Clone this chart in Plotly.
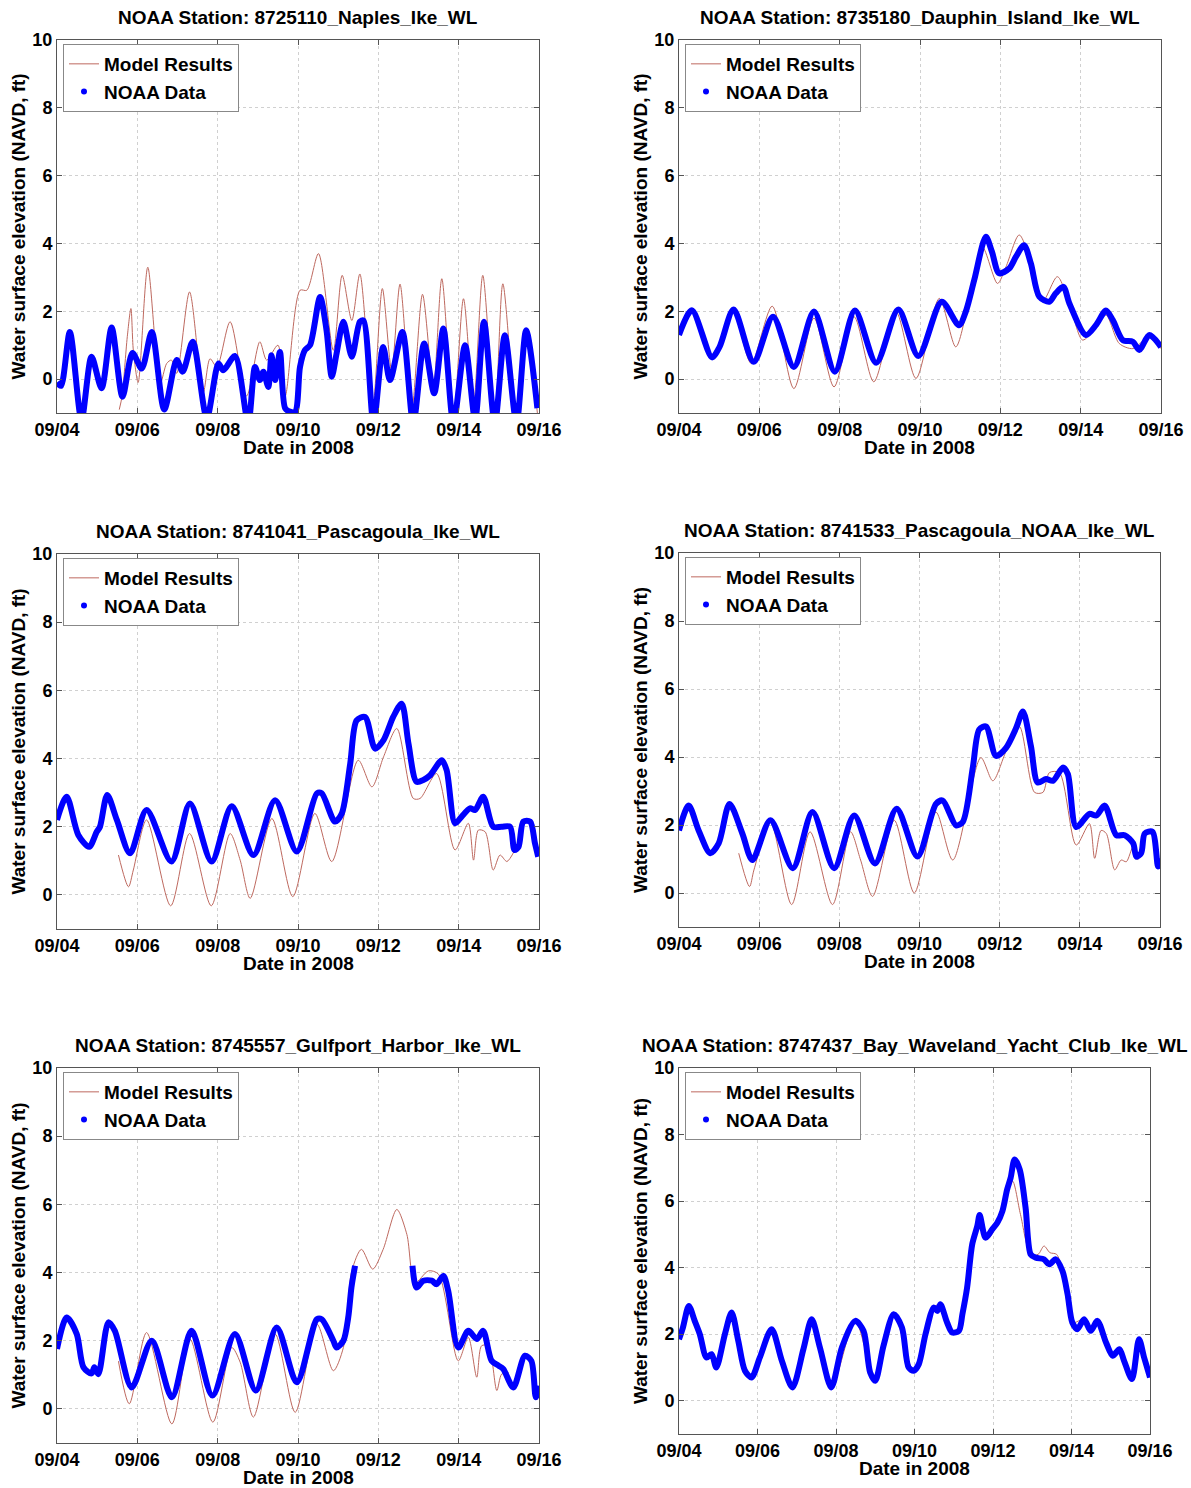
import pandas as pd
import plotly.graph_objects as go

W, H = 1191, 1488
BASE = pd.Timestamp("2008-09-04")

# time in days after 09/04 00:00, water level in ft (NAVD)
naples_t_model = [1.55, 1.62, 1.75, 1.84, 1.90, 2.02, 2.26, 2.57, 2.73, 2.85, 2.98, 3.30, 3.64, 3.81, 3.98,
                  4.31, 4.72, 5.05, 5.22, 5.50, 5.68, 6.05, 6.22, 6.51, 6.88, 7.10, 7.34, 7.54, 7.86, 8.10,
                  8.33, 8.54, 8.83, 9.10, 9.37, 9.58, 9.87, 10.12, 10.37, 10.60, 10.90, 11.10, 11.44, 11.68, 11.96]
naples_y_model = [-0.9, -0.5, 1.25, 2.08, 0.85, -0.1, 3.3, -0.13, 0.46, 0.56, 0.17, 2.57, -0.4, 0.6, 0.36,
                  1.69, -0.5, 1.1, 0.56, 1.0, -0.5, 2.62, 2.62, 3.7, 0.85, 3.06, 1.73, 3.1, -0.8, 2.67,
                  0.26, 2.8, -0.9, 2.5, -0.2, 2.96, -1.1, 2.37, -0.7, 3.06, -1.1, 2.81, -1.1, 1.35, -1.0]
naples_t_noaa = [0.0, 0.1, 0.32, 0.61, 0.86, 1.11, 1.36, 1.63, 1.88, 2.11, 2.36, 2.67, 2.98, 3.13, 3.38,
                 3.73, 4.02, 4.14, 4.43, 4.76, 4.93, 5.05, 5.14, 5.26, 5.34, 5.43, 5.55, 5.68, 5.80, 5.93,
                 6.05, 6.17, 6.30, 6.55, 6.71, 6.84, 6.96, 7.13, 7.34, 7.54, 7.63, 7.88, 8.12, 8.29, 8.60,
                 8.87, 9.14, 9.39, 9.62, 9.87, 10.16, 10.41, 10.63, 10.90, 11.15, 11.44, 11.68, 11.96]
naples_y_noaa = [-0.1, -0.2, 1.39, -1.2, 0.66, -0.27, 1.52, -0.52, 0.77, 0.31, 1.39, -0.9, 0.56, 0.22, 1.1,
                 -1.15, 0.46, 0.26, 0.68, -1.3, 0.36, -0.03, 0.22, -0.23, 0.7, -0.03, 0.8, -0.86, -0.96, -0.96,
                 0.36, 0.85, 1.0, 2.42, 1.44, 0.07, 0.75, 1.69, 0.66, 1.69, 1.73, -1.3, 0.95, -0.03, 1.39,
                 -1.3, 1.05, -0.42, 1.49, -1.3, 1.0, -1.2, 1.69, -1.3, 1.29, -1.3, 1.44, -0.86]

dauphin_t_model = [1.50, 1.80, 2.32, 2.86, 3.36, 3.86, 4.36, 4.85, 5.40, 5.90, 6.48, 6.89, 7.20, 7.55, 7.93,
                   8.14, 8.47, 8.80, 9.05, 9.42, 9.72, 10.05, 10.38, 10.63, 10.96, 11.30, 11.71, 12.00]
dauphin_y_model = [1.6, 0.46, 2.15, -0.28, 1.8, -0.23, 1.84, -0.08, 1.99, 0.02, 2.38, 0.95, 2.2, 3.9, 2.82,
                   3.31, 4.25, 3.31, 2.28, 3.02, 2.23, 1.15, 1.54, 1.89, 1.05, 0.9, 1.25, 0.9]
dauphin_t_noaa = [0.0, 0.32, 0.82, 1.01, 1.36, 1.86, 2.34, 2.86, 3.36, 3.88, 4.38, 4.91, 5.46, 5.96, 6.54,
                  6.97, 7.14, 7.35, 7.64, 7.79, 7.97, 8.22, 8.39, 8.59, 8.76, 8.97, 9.22, 9.38, 9.57, 9.72,
                  10.13, 10.38, 10.63, 10.80, 11.05, 11.30, 11.46, 11.71, 12.00]
dauphin_y_noaa = [1.3, 2.03, 0.64, 0.95, 2.05, 0.51, 1.84, 0.36, 1.99, 0.22, 2.02, 0.48, 2.05, 0.68, 2.28,
                  1.59, 1.99, 2.92, 4.2, 3.76, 3.12, 3.26, 3.61, 3.95, 3.41, 2.43, 2.28, 2.53, 2.72, 2.23,
                  1.3, 1.59, 2.02, 1.74, 1.15, 1.1, 0.86, 1.3, 0.95]

pasc_t_model = [1.53, 1.78, 1.90, 2.23, 2.83, 3.30, 3.84, 4.31, 4.56, 4.81, 5.35, 5.87, 6.42, 6.84, 7.50,
                7.84, 8.13, 8.46, 8.87, 9.04, 9.45, 9.91, 10.24, 10.37, 10.49, 10.66, 10.86, 11.03, 11.20, 11.40]
pasc_y_model = [1.17, 0.24, 0.73, 2.2, -0.32, 1.8, -0.32, 1.8, 1.02, -0.1, 2.24, -0.05, 2.39, 0.98, 3.95,
                3.17, 4.05, 4.88, 2.83, 2.83, 3.56, 1.32, 2.1, 1.02, 1.9, 1.85, 0.73, 1.17, 0.98, 1.32]
pasc_t_noaa = [0.0, 0.24, 0.53, 0.80, 0.99, 1.07, 1.25, 1.49, 1.82, 2.23, 2.85, 3.31, 3.85, 4.35, 4.89,
               5.43, 5.97, 6.47, 6.59, 6.92, 7.09, 7.30, 7.46, 7.67, 7.92, 8.13, 8.37, 8.58, 8.75, 8.95,
               9.12, 9.29, 9.58, 9.70, 9.91, 10.07, 10.28, 10.41, 10.61, 10.86, 11.07, 11.28, 11.39, 11.49,
               11.61, 11.78, 11.90, 11.98]
pasc_y_noaa = [2.2, 2.88, 1.76, 1.41, 1.85, 2.0, 2.93, 2.2, 1.22, 2.49, 0.98, 2.68, 0.98, 2.6, 1.17,
               2.78, 1.27, 2.98, 2.98, 2.15, 2.39, 3.85, 5.12, 5.22, 4.29, 4.54, 5.22, 5.61, 4.44, 3.32,
               3.37, 3.51, 3.95, 3.66, 2.1, 2.29, 2.54, 2.49, 2.88, 2.0, 2.0, 2.0, 1.32, 1.41,
               2.15, 2.15, 1.51, 1.12]

pnoaa_t_model = [1.49, 1.76, 1.87, 2.28, 2.81, 3.27, 3.83, 4.28, 4.53, 4.83, 5.37, 5.87, 6.41, 6.83, 7.53,
                 7.83, 8.16, 8.49, 8.87, 9.08, 9.24, 9.49, 9.91, 10.24, 10.37, 10.53, 10.66, 10.87, 11.03,
                 11.16, 11.33, 11.45]
pnoaa_y_model = [1.17, 0.19, 0.68, 2.09, -0.34, 1.8, -0.34, 1.8, 0.97, -0.1, 2.14, 0.0, 2.38, 0.97, 3.98,
                 3.3, 4.17, 4.9, 2.96, 2.96, 3.54, 3.54, 1.41, 2.04, 1.02, 1.84, 1.75, 0.68, 0.97,
                 0.92, 1.36, 0.97]
pnoaa_t_noaa = [0.0, 0.24, 0.49, 0.78, 0.99, 1.26, 1.58, 1.83, 2.28, 2.84, 3.33, 3.87, 4.37, 4.89, 5.43,
                5.95, 6.41, 6.58, 6.91, 7.08, 7.33, 7.49, 7.66, 7.91, 8.16, 8.41, 8.58, 8.78, 8.95, 9.16,
                9.33, 9.58, 9.70, 9.91, 10.24, 10.41, 10.62, 10.91, 11.12, 11.33, 11.41, 11.53, 11.62,
                11.81, 11.95, 12.00]
pnoaa_y_noaa = [1.84, 2.57, 1.84, 1.17, 1.46, 2.62, 1.75, 0.97, 2.14, 0.73, 2.38, 0.73, 2.28, 0.87, 2.48,
                1.07, 2.62, 2.72, 1.99, 2.09, 3.69, 4.81, 4.9, 4.03, 4.27, 4.85, 5.34, 4.32, 3.25, 3.35,
                3.3, 3.69, 3.5, 1.94, 2.33, 2.28, 2.57, 1.7, 1.7, 1.46, 1.07, 1.17, 1.75,
                1.8, 0.78, 1.02]

gulf_t_model = [1.53, 1.80, 2.23, 2.86, 3.31, 3.88, 4.35, 4.56, 4.89, 5.43, 5.93, 6.47, 6.88, 7.13, 7.34,
                7.58, 7.86, 8.12, 8.46, 8.71, 8.91, 9.25, 9.50, 9.99, 10.24, 10.45, 10.57, 10.74, 10.95,
                11.07, 11.24]
gulf_y_model = [1.4, 0.15, 2.24, -0.44, 2.05, -0.39, 1.8, 1.37, -0.24, 2.2, -0.1, 2.49, 1.12, 1.8, 4.05,
                4.68, 4.1, 4.68, 5.85, 5.12, 3.7, 4.05, 3.95, 1.41, 2.1, 0.93, 1.85, 1.85, 0.54,
                1.02, 1.07]
gulf_t_noaa = [0.0, 0.24, 0.49, 0.66, 0.86, 0.93, 1.03, 1.28, 1.44, 1.86, 2.36, 2.86, 3.35, 3.87, 4.43,
               4.95, 5.47, 5.97, 6.47, 6.59, 6.88, 6.96, 7.13, 7.25, 7.33, 7.42, 8.10,
               8.85, 8.95, 9.12, 9.33, 9.45, 9.62, 9.74, 9.99, 10.24, 10.45, 10.61, 10.82, 10.99, 11.11,
               11.36, 11.65, 11.81, 11.92, 12.00]
gulf_y_noaa = [1.76, 2.68, 2.2, 1.22, 1.04, 1.22, 1.02, 2.54, 2.29, 0.63, 2.0, 0.34, 2.29, 0.39, 2.2,
               0.54, 2.39, 0.78, 2.63, 2.63, 2.0, 1.8, 2.0, 2.68, 3.56, 4.2, None,
               4.2, 3.56, 3.76, 3.76, 3.66, 3.9, 3.46, 1.8, 2.29, 2.05, 2.29, 1.41, 1.27, 1.17,
               0.63, 1.56, 1.41, 0.34, 0.68]

bay_t_model = [1.50, 1.85, 2.36, 2.89, 3.38, 3.88, 4.49, 5.00, 5.47, 5.98, 6.49, 6.66, 6.96, 7.13, 7.47,
               7.66, 7.85, 8.11, 8.36, 8.50, 8.70, 8.96, 9.15, 9.30, 9.45, 9.62, 9.77, 10.02, 10.32, 10.49,
               10.66, 11.05, 11.22, 11.54, 11.72, 12.00]
bay_y_model = [1.8, 0.7, 2.15, 0.4, 2.45, 0.4, 2.4, 0.6, 2.6, 0.9, 2.8, 2.9, 2.05, 2.1, 4.7,
               5.5, 4.85, 5.3, 6.2, 6.6, 5.6, 4.4, 4.4, 4.65, 4.45, 4.4, 3.9, 2.35, 2.45, 2.1,
               2.4, 1.35, 1.55, 0.65, 1.85, 0.7]
bay_t_noaa = [0.0, 0.10, 0.25, 0.40, 0.53, 0.70, 0.83, 0.95, 1.17, 1.34, 1.51, 1.68, 1.85, 2.06, 2.36,
              2.62, 2.89, 3.17, 3.38, 3.59, 3.88, 4.15, 4.49, 4.70, 4.87, 5.00, 5.21, 5.47, 5.68, 5.85,
              5.98, 6.11, 6.28, 6.49, 6.58, 6.66, 6.83, 6.96, 7.13, 7.22, 7.34, 7.47, 7.60, 7.66, 7.81,
              7.98, 8.11, 8.24, 8.36, 8.45, 8.55, 8.68, 8.83, 8.96, 9.09, 9.30, 9.43, 9.60, 9.77, 9.90,
              10.02, 10.15, 10.32, 10.49, 10.66, 10.88, 11.05, 11.22, 11.34, 11.54, 11.72, 11.85, 12.00]
bay_y_noaa = [1.85, 2.2, 2.85, 2.4, 2.0, 1.3, 1.4, 1.0, 2.0, 2.65, 1.8, 0.9, 0.7, 1.3, 2.15,
              1.2, 0.4, 1.55, 2.45, 1.6, 0.4, 1.6, 2.4, 2.1, 0.85, 0.6, 1.65, 2.6, 2.2, 1.0,
              0.9, 1.1, 2.0, 2.8, 2.7, 2.9, 2.35, 2.05, 2.1, 2.6, 3.4, 4.7, 5.25, 5.58, 4.9,
              5.15, 5.35, 5.7, 6.35, 6.7, 7.25, 6.95, 5.8, 4.4, 4.3, 4.25, 4.1, 4.25, 3.9, 3.2,
              2.35, 2.15, 2.45, 2.1, 2.4, 1.75, 1.35, 1.55, 1.2, 0.65, 1.85, 1.3, 0.7]

y_ticks = [0, 2, 4, 6, 8, 10]

panels = [
    ("8725110_Naples_Ike_WL", naples_t_model, naples_y_model, naples_t_noaa, naples_y_noaa, (57, 539, 40, 413)),
    ("8735180_Dauphin_Island_Ike_WL", dauphin_t_model, dauphin_y_model, dauphin_t_noaa, dauphin_y_noaa, (679, 1161, 40, 413)),
    ("8741041_Pascagoula_Ike_WL", pasc_t_model, pasc_y_model, pasc_t_noaa, pasc_y_noaa, (57, 539, 554, 929)),
    ("8741533_Pascagoula_NOAA_Ike_WL", pnoaa_t_model, pnoaa_y_model, pnoaa_t_noaa, pnoaa_y_noaa, (679, 1160, 553, 927)),
    ("8745557_Gulfport_Harbor_Ike_WL", gulf_t_model, gulf_y_model, gulf_t_noaa, gulf_y_noaa, (57, 539, 1068, 1443)),
    ("8747437_Bay_Waveland_Yacht_Club_Ike_WL", bay_t_model, bay_y_model, bay_t_noaa, bay_y_noaa, (679, 1150, 1068, 1434)),
]

FONT = "Liberation Sans, Arial, sans-serif"
MODEL_COLOR = "rgb(190,105,95)"
NOAA_COLOR = "rgb(0,0,255)"


def to_dates(ts):
    return [BASE + pd.Timedelta(days=t) for t in ts]


def px(x):
    return x / W


def py(y):
    return 1 - y / H


fig = go.Figure()
annotations = []
layout = {}

for i, (name, tm, ym, tn, yn, box) in enumerate(panels, start=1):
    x0, x1, y0, y1 = box
    sfx = "" if i == 1 else str(i)
    leg = "legend" if i == 1 else f"legend{i}"
    xa, ya = f"x{sfx}", f"y{sfx}"

    fig.add_trace(go.Scatter(
        x=to_dates(tm), y=ym, mode="lines", name="Model Results",
        line=dict(color=MODEL_COLOR, width=1, shape="spline", smoothing=0.8),
        xaxis=xa, yaxis=ya, legend=leg))
    fig.add_trace(go.Scatter(
        x=to_dates(tn), y=yn, mode="lines", name="NOAA Data", showlegend=False,
        line=dict(color=NOAA_COLOR, width=6, shape="spline", smoothing=0.8),
        connectgaps=False, xaxis=xa, yaxis=ya))
    # legend entry for the dotted NOAA series
    fig.add_trace(go.Scatter(
        x=[None], y=[None], mode="markers", name="NOAA Data",
        marker=dict(color=NOAA_COLOR, size=6),
        xaxis=xa, yaxis=ya, legend=leg))

    axis_common = dict(
        automargin=False,
        showline=True, linecolor="#555555", linewidth=1, mirror="ticks",
        ticks="inside", ticklen=5, tickcolor="#555555",
        showgrid=True, gridcolor="#d0d0d0", griddash="dot", gridwidth=1,
        zeroline=False,
        tickfont=dict(family=FONT, size=18, color="black", weight="bold"),
    )
    layout[f"xaxis{sfx}"] = dict(
        axis_common, domain=[px(x0), px(x1)], anchor=ya, type="date",
        range=["2008-09-04", "2008-09-16"], tick0="2008-09-04", dtick=2 * 86400000,
        tickformat="%m/%d")
    layout[f"yaxis{sfx}"] = dict(
        axis_common, domain=[py(y1), py(y0)], anchor=xa,
        range=[-1, 10], tickvals=y_ticks)

    layout[leg] = dict(
        x=px(x0 + 6), y=py(y0 + 4), xanchor="left", yanchor="top",
        bgcolor="white", bordercolor="#888888", borderwidth=1,
        font=dict(family=FONT, size=19, color="black", weight="bold"),
        itemwidth=30, tracegroupgap=0)

    cx = (x0 + x1) / 2
    annotations.append(dict(
        text=f"NOAA Station: {name}", x=px(cx), y=py(y0 - 23), xref="paper", yref="paper",
        showarrow=False, xanchor="center", yanchor="middle",
        font=dict(family=FONT, size=19, color="black", weight="bold")))
    annotations.append(dict(
        text="Date in 2008", x=px(cx), y=py(y1 + 34), xref="paper", yref="paper",
        showarrow=False, xanchor="center", yanchor="middle",
        font=dict(family=FONT, size=19, color="black", weight="bold")))
    annotations.append(dict(
        text="Water surface elevation (NAVD, ft)", x=px(x0 - 39), y=py((y0 + y1) / 2),
        xref="paper", yref="paper", showarrow=False, textangle=-90,
        xanchor="center", yanchor="middle",
        font=dict(family=FONT, size=19, color="black", weight="bold")))

fig.update_layout(
    width=W, height=H, margin=dict(l=0, r=0, t=0, b=0),
    paper_bgcolor="white", plot_bgcolor="white",
    annotations=annotations, **layout)

# the page's default body margin would shift the figure by 8 px
fig.write_html("out.html", config={"displayModeBar": False},
               post_script="document.body.style.margin='0';document.body.style.overflow='hidden';")
